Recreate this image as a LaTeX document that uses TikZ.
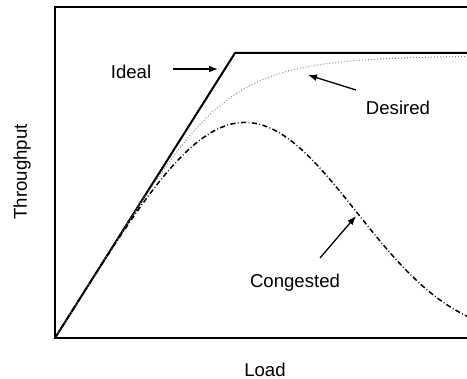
\documentclass[tikz,border=0pt]{standalone}
\usepackage{fontspec}
\setmainfont{Liberation Sans}
\usetikzlibrary{arrows.meta,positioning}

\tikzset{
  curvelabel/.style={font=\fontsize{9.3}{11}\selectfont, inner sep=1pt},
  pointer/.style={-{Latex[length=4.5pt,width=3.4pt]}, line width=0.65pt},
  frame/.style={line width=0.7pt},
  idealline/.style={line width=1pt, line join=miter},
  desiredline/.style={gray, line width=0.55pt, dash pattern=on 0.4pt off 1.1pt},
  congestedline/.style={line width=0.75pt, dash pattern=on 2.6pt off 1.2pt on 0.4pt off 1.2pt},
}

\begin{document}
\begin{tikzpicture}[x=0.5pt, y=-0.5pt,
  declare function={
    desired(\t) = 338 - 283*(0.005594*\t)/(1+(0.005594*\t)^4.5)^(0.2222);
    congested(\t) = 338 - 1.583*\t*exp(-(\t/190)^3/3);
  }]
  \useasboundingbox (0,0) rectangle (467,379);

  % axes
  \coordinate (origin) at (55,338);
  \draw[frame] (467,7) -- (55,7) -- (origin) -- (467,338);

  % the three curves
  \coordinate (knee) at (235,53);
  \coordinate (idealend) at (467,53);
  \draw[idealline] (origin) -- (knee) -- (idealend);
  \draw[desiredline] (origin) -- plot[domain=0.5:412, samples=150] ({55+\x},{desired(\x)});
  \draw[congestedline] (origin) -- plot[domain=0.5:412, samples=150] ({55+\x},{congested(\x)});

  % labels
  \node[curvelabel] (ideal) at (131,72) {Ideal};
  \node[curvelabel] (desired) at (398,108) {Desired};
  \node[curvelabel] (congested) at (295,283) {Congested};
  \node[curvelabel, rotate=90] (throughput) at (22,172) {Throughput};
  \node[curvelabel] (load) at (265,370) {Load};

  % pointers
  \coordinate (idealfrom) at (173,69);
  \coordinate (idealtip) at (218,69);
  \coordinate (desiredfrom) at (356,90);
  \coordinate (desiredtip) at (308,75);
  \coordinate (congestedfrom) at (320,258);
  \coordinate (congestedtip) at (356,216);
  \draw[pointer] (idealfrom) -- (idealtip);
  \draw[pointer] (desiredfrom) -- (desiredtip);
  \draw[pointer] (congestedfrom) -- (congestedtip);
\end{tikzpicture}
\end{document}
